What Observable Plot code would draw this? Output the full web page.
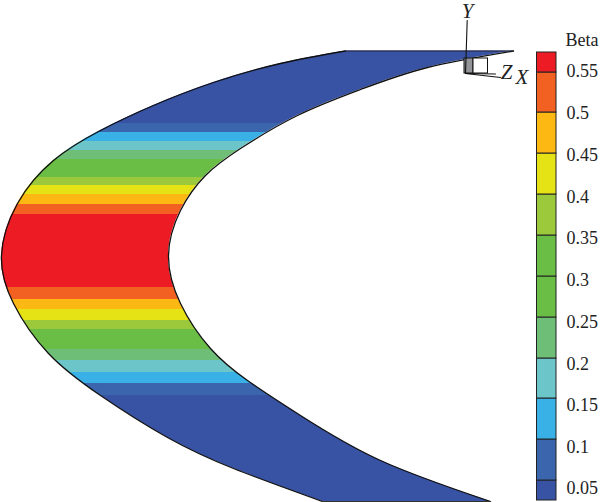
<!DOCTYPE html>
<html><head><meta charset="utf-8">
<script src="https://cdn.jsdelivr.net/npm/d3@7"></script>
<script src="https://cdn.jsdelivr.net/npm/@observablehq/plot@0.6"></script>
<style>html,body{margin:0;padding:0;background:#fff}svg{display:block}</style>
</head><body><div id="chart"></div>
<script>
// blade outline (chart units = picture units)
const outerX = [345,280,213,153,100,53,17,1,13,48,100,167,233,322];
const outerY = [50.5,63,82,105,130,160,203,255,303,353,395,437,468,501];
const innerX = [513,427,360,297,240,205,180,168,180,210,247,300,380,490];
const innerY = [50.5,67,89,115,148,175,210,255,303,348,380,415,460,501];

// contour bands down the blade: edge positions and Beta classes
const bandEdges = [50,123,132,141,150,159,177,185,194,204,214,287,299,309,320,329,349,360,372,383,395,501];
const bandClass = [0,1,2,3,4,5,6,7,8,9,10,9,8,7,6,5,4,3,2,1,0];

// legend
const classColors = ["#3953A4","#3B66AE","#39B1E6","#6CC5C9","#6FBE78","#6ABD45","#9BC93B","#E5E216","#FDB813","#F26122","#ED1C24"];
const legendEdges = [500,480,439,398,358,317,276,235,194,153,112,72,52];
const legendColors = ["#3953A4","#3B66AE","#39B1E6","#6CC5C9","#6FBE78","#6ABD45","#6ABD45","#9BC93B","#E5E216","#FDB813","#F26122","#ED1C24"];
const tickLabels = ["0.05","0.1","0.15","0.2","0.25","0.3","0.35","0.4","0.45","0.5","0.55"];
const tickPos = [488,447,405,364,322,280,238,197,155,113,71];

const outer = outerX.map((x,i)=>({x,y:outerY[i]}));
const inner = innerX.map((x,i)=>({x,y:innerY[i]}));
const bands = bandClass.map((c,i)=>({y1:bandEdges[i],y2:bandEdges[i+1],fill:classColors[c]}));
const legend = legendColors.map((fill,i)=>({y1:legendEdges[i],y2:legendEdges[i+1],fill}));
const ticks = tickLabels.map((label,i)=>({label,y:tickPos[i]}));

const serif = "'Liberation Serif', serif";

function clipDef(index, {x, y}) {
  const line = d3.line().x(d=>x(d.x)).y(d=>y(d.y)).curve(d3.curveNatural);
  const d = line(outer) + line(inner.slice().reverse()).replace(/^M/,"L") + "Z";
  const defs = document.createElementNS("http://www.w3.org/2000/svg","defs");
  const cp = document.createElementNS("http://www.w3.org/2000/svg","clipPath");
  cp.setAttribute("id","blade");
  const p = document.createElementNS("http://www.w3.org/2000/svg","path");
  p.setAttribute("d",d);
  cp.appendChild(p); defs.appendChild(cp);
  return defs;
}

const chart = Plot.plot({
  width:600, height:502, margin:0,
  x:{domain:[0,600],range:[0,600],axis:null},
  y:{domain:[0,502],range:[0,502],axis:null},
  style:{background:"#fff",fontFamily:serif},
  marks:[
    clipDef,
    Plot.rect(bands,{x1:()=>0,x2:()=>600,y1:"y1",y2:"y2",fill:d=>d.fill,
      render(i,s,v,d,c,next){const g=next(i,s,v,d,c);g.setAttribute("clip-path","url(#blade)");return g;}}),
    Plot.line(outer,{x:"x",y:"y",curve:"natural",stroke:"#111",strokeWidth:1.3}),
    Plot.line(inner,{x:"x",y:"y",curve:"natural",stroke:"#111",strokeWidth:1.3}),
    Plot.line([{x:322,y:501},{x:490,y:501}],{x:"x",y:"y",stroke:"#333",strokeWidth:1}),
    Plot.line([{x:345,y:50.5},{x:513,y:50.5}],{x:"x",y:"y",stroke:"#223",strokeWidth:1}),
    // axis triad
    Plot.rect([{x1:464,x2:473,y1:58,y2:73}],{x1:"x1",x2:"x2",y1:"y1",y2:"y2",fill:"#939598",stroke:"#111",strokeWidth:1}),
    Plot.rect([{x1:473,x2:487.5,y1:58,y2:73}],{x1:"x1",x2:"x2",y1:"y1",y2:"y2",fill:"#fff",stroke:"#111",strokeWidth:1}),
    Plot.line([{x:466.7,y:20},{x:465,y:73}],{x:"x",y:"y",stroke:"#111",strokeWidth:1.1}),
    Plot.line([{x:465,y:73},{x:495,y:73.5}],{x:"x",y:"y",stroke:"#111",strokeWidth:1.1}),
    Plot.line([{x:465,y:73},{x:500,y:77}],{x:"x",y:"y",stroke:"#111",strokeWidth:1.1}),
    Plot.text([{t:"Y",x:467,y:10.5},{t:"Z",x:506,y:71.5},{t:"X",x:521.5,y:76.5}],{x:"x",y:"y",text:"t",fontSize:21,fontStyle:"italic",fontFamily:serif,fill:"#222"}),
    // legend
    Plot.rect(legend,{x1:()=>536.5,x2:()=>556,y1:"y1",y2:"y2",fill:d=>d.fill,stroke:"#222",strokeWidth:1}),
    Plot.text(ticks,{x:()=>566,y:"y",text:"label",textAnchor:"start",fontSize:18,fontFamily:serif,fill:"#222"}),
    Plot.text(["Beta"],{x:()=>565,y:()=>40,text:d=>d,textAnchor:"start",fontSize:18,fontFamily:serif,fill:"#222"})
  ]
});
document.getElementById("chart").appendChild(chart);
</script></body></html>
